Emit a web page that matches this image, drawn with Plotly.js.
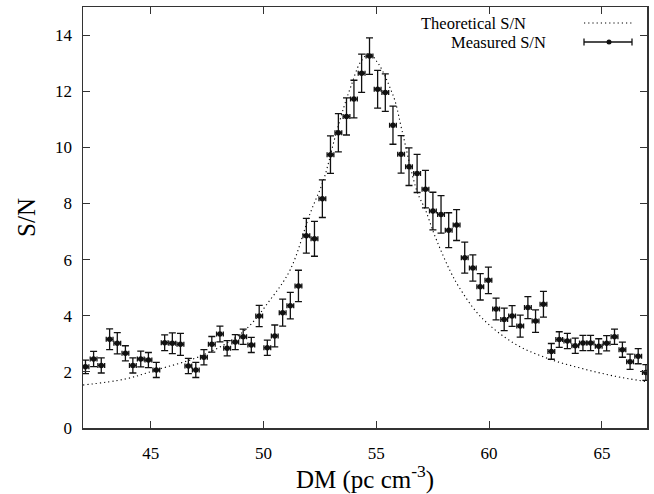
<!DOCTYPE html>
<html>
<head>
<meta charset="utf-8">
<script src="https://cdn.plot.ly/plotly-3.0.1.min.js"></script>
<style>html,body{margin:0;padding:0;background:#fff;}#chart{width:654px;height:494px;}</style>
</head>
<body>
<div id="chart"></div>
<script>
// Measured S/N
const dm = [42.11,42.47,42.81,43.18,43.52,43.88,44.21,44.56,44.9,45.25,45.62,45.96,46.32,46.67,47.0,47.36,47.71,48.07,48.39,48.75,49.1,49.46,49.81,50.17,50.5,50.85,51.19,51.55,51.9,52.26,52.61,52.97,53.32,53.68,54.01,54.35,54.7,55.06,55.4,55.74,56.1,56.45,56.81,57.18,57.51,57.87,58.21,58.56,58.92,59.28,59.61,59.97,60.31,60.67,61.02,61.38,61.72,62.06,62.41,62.76,63.11,63.47,63.82,64.16,64.5,64.86,65.21,65.56,65.91,66.25,66.61,66.95];
const sn = [2.18,2.46,2.23,3.16,3.02,2.66,2.23,2.46,2.42,2.07,3.04,3.02,2.98,2.21,2.07,2.52,2.98,3.35,2.84,3.06,3.25,2.96,3.99,2.86,3.28,4.11,4.36,5.06,6.85,6.74,8.17,9.74,10.52,11.1,11.72,12.64,13.25,12.07,11.95,10.79,9.75,9.31,9.07,8.51,7.73,7.61,7.05,7.23,6.07,5.7,5.03,5.26,4.24,3.87,3.99,3.63,4.29,3.81,4.41,2.73,3.15,3.1,2.93,3.03,3.03,2.91,3.02,3.25,2.79,2.36,2.56,1.98];
const snErr = [0.24,0.27,0.27,0.37,0.38,0.27,0.27,0.28,0.27,0.27,0.28,0.37,0.39,0.27,0.27,0.27,0.28,0.28,0.27,0.27,0.27,0.27,0.38,0.27,0.39,0.48,0.47,0.56,0.62,0.62,0.67,0.67,0.68,0.66,0.67,0.68,0.65,0.67,0.67,0.68,0.67,0.67,0.68,0.67,0.67,0.67,0.62,0.55,0.55,0.47,0.47,0.47,0.39,0.40,0.37,0.39,0.39,0.40,0.46,0.28,0.28,0.27,0.27,0.27,0.27,0.27,0.27,0.27,0.27,0.27,0.27,0.28];
const dmErr = 0.15;

// Theoretical S/N
const theoryDm = [42.0,43.9,45.25,47.33,49.1,50.29,51.18,52.07,52.66,53.18,53.57,53.87,54.31,54.7,55.03,55.18,55.4,55.62,55.84,56.14,56.81,57.18,57.55,57.92,58.29,58.66,59.62,61.1,62.59,64.07,65.55,67.0];
const theorySn = [1.53,1.75,2.07,2.6,3.43,4.56,5.63,7.65,8.83,10.38,11.45,12.16,13.05,13.35,13.05,12.87,12.52,12.1,11.63,10.6,8.42,7.77,6.94,6.22,5.57,5.03,3.97,3.02,2.48,2.13,1.85,1.65];

const legendLabels = ["Theoretical S/N", "Measured S/N"];
const xTitle = "DM (pc cm<sup>-3</sup>)";
const yTitle = "S/N";

const font = "'Liberation Serif', 'Times New Roman', 'DejaVu Serif', serif";

const traces = [
  {
    x: theoryDm, y: theorySn, type: "scatter", mode: "lines",
    line: {color: "#000", width: 1.1, dash: "1.2px,3px", shape: "spline", smoothing: 1.0},
    name: legendLabels[0], hoverinfo: "skip"
  },
  {
    x: dm, y: sn, type: "scatter", mode: "markers",
    marker: {color: "#111", size: 5.5},
    error_y: {type: "data", array: snErr, visible: true, color: "#111", thickness: 1.3, width: 3.5},
    error_x: {type: "constant", value: dmErr, visible: true, color: "#111", thickness: 1.3, width: 2.5},
    name: legendLabels[1]
  }
];

const L = 83, R = 647, T = 7, B = 428;
const px = v => (v - L) / (R - L);
const py = v => (B - v) / (B - T);

const layout = {
  width: 654, height: 494,
  margin: {l: L, r: 654 - R, t: T, b: 494 - B},
  paper_bgcolor: "#fff", plot_bgcolor: "#fff",
  showlegend: false,
  font: {family: font, color: "#000", size: 16},
  xaxis: {
    range: [42, 67], tickvals: [45, 50, 55, 60, 65],
    ticks: "inside", ticklen: 7, tickwidth: 1, tickcolor: "#333",
    showline: true, linecolor: "#333", linewidth: 1.5, mirror: "allticks",
    showgrid: false, zeroline: false, ticklabelstandoff: 9,
    tickfont: {family: font, size: 17, color: "#000"},
    title: {text: xTitle, font: {family: font, size: 25, color: "#000"}, standoff: 6}
  },
  yaxis: {
    range: [0, 15], tickvals: [0, 2, 4, 6, 8, 10, 12, 14],
    ticks: "inside", ticklen: 7, tickwidth: 1, tickcolor: "#333",
    showline: true, linecolor: "#333", linewidth: 1.5, mirror: "allticks",
    showgrid: false, zeroline: false, ticklabelstandoff: 6,
    tickfont: {family: font, size: 17, color: "#000"},
    title: {text: yTitle, font: {family: font, size: 25, color: "#000"}, standoff: 12}
  },
  annotations: [
    {xref: "paper", yref: "paper", x: px(528), y: py(23), xanchor: "right", yanchor: "middle",
     text: legendLabels[0], showarrow: false, font: {family: font, size: 16.5, color: "#000"}},
    {xref: "paper", yref: "paper", x: px(548), y: py(42), xanchor: "right", yanchor: "middle",
     text: legendLabels[1], showarrow: false, font: {family: font, size: 16.5, color: "#000"}}
  ],
  shapes: [
    {type: "line", xref: "paper", yref: "paper", x0: px(584), x1: px(632), y0: py(23), y1: py(23),
     line: {color: "#000", width: 1.1, dash: "1.2px,3px"}},
    {type: "line", xref: "paper", yref: "paper", x0: px(584), x1: px(632), y0: py(42), y1: py(42),
     line: {color: "#111", width: 1.3}},
    {type: "line", xref: "paper", yref: "paper", x0: px(584), x1: px(584), y0: py(38.5), y1: py(45.5),
     line: {color: "#111", width: 1.3}},
    {type: "line", xref: "paper", yref: "paper", x0: px(632), x1: px(632), y0: py(38.5), y1: py(45.5),
     line: {color: "#111", width: 1.3}},
    {type: "circle", xref: "paper", yref: "paper", x0: px(606.5), x1: px(611.5), y0: py(39.5), y1: py(44.5),
     fillcolor: "#111", line: {color: "#111", width: 0}}
  ]
};

Plotly.newPlot("chart", traces, layout, {displayModeBar: false, staticPlot: true});
</script>
</body>
</html>
